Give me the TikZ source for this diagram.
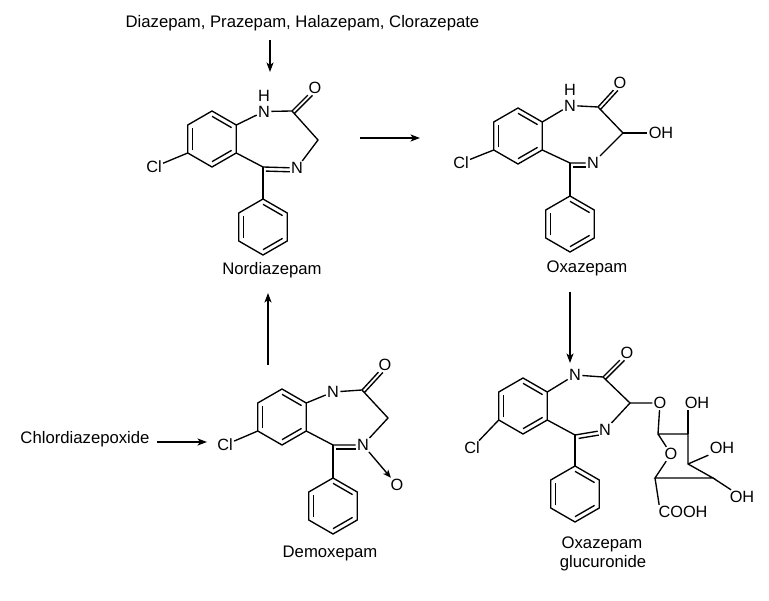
\documentclass[tikz,border=0pt]{standalone}
\usepackage{fontspec}
\setmainfont{Liberation Sans}
\usetikzlibrary{calc,arrows.meta}
\tikzset{
  bond/.style={line width=1.35pt, line join=miter, line cap=butt},
  atom/.style={font=\fontsize{16.3}{19}\selectfont, inner sep=1.2pt},
  lbl/.style={font=\fontsize{16.7}{19.5}\selectfont, inner sep=0pt, anchor=base},
  rxn/.style={line width=1.1pt, -{Stealth[length=9.5pt,width=7pt,inset=2.5pt]}},
  oxarrow/.style={line width=1.35pt, -{Stealth[length=8pt,width=6.5pt,inset=2pt]}},
  pics/hexring/.style={code={
    \coordinate (-c) at (0,0);
    \coordinate (-v1) at (0,-28);
    \coordinate (-v2) at (24.25,-14);
    \coordinate (-v3) at (24.25,14);
    \coordinate (-v4) at (0,28);
    \coordinate (-v5) at (-24.25,14);
    \coordinate (-v6) at (-24.25,-14);
    \draw[bond] (-v1) -- (-v2) -- (-v3) -- (-v4) -- (-v5) -- (-v6) -- cycle;
    \draw[bond] ($(-v1)!0.19!(-c)$) -- ($(-v2)!0.19!(-c)$);
    \draw[bond] ($(-v5)!0.19!(-c)$) -- ($(-v6)!0.19!(-c)$);
    \draw[bond] ($(-v3)!0.19!(-c)$) -- ($(-v4)!0.19!(-c)$);
  }}
}
\begin{document}
\begin{tikzpicture}[x=1pt,y=-1pt]
\useasboundingbox (0,0) rectangle (769,601);
\fill[white] (0,0) rectangle (769,601);

% ---------- Nordiazepam ----------
\pic (Abz) at (212,139) {hexring};
\pic (Aph) at (263,227) {hexring};
\node[atom] (AN1) at (264,111.5) {N};
\node[atom] (AH) at (264,95.5) {H};
\coordinate (AC2) at (292,111);
\node[atom] (AO) at (315,88) {O};
\coordinate (AC3) at (318,140);
\node[atom] (AN4) at (297,168) {N};
\coordinate (AC5) at (263,167);
\node[atom] (ACl) at (154,167) {Cl};
\draw[bond] (Abz-v2) -- (AN1) -- (AC2) -- (AC3) -- (AN4);
\draw[bond] (AC2) -- (AO);
\draw[bond,shorten >=7pt] ($(AC2)!3.5pt!-90:(AO)$) -- ($(AO)!3.5pt!90:(AC2)$);
\draw[bond] (Abz-v3) -- (AC5) -- (AN4);
\draw[bond,shorten <=3pt,shorten >=7pt] ($(AC5)!4pt!-90:(AN4)$) -- ($(AN4)!4pt!90:(AC5)$);
\draw[bond] (AC5) -- (Aph-v1);
\draw[bond] (Abz-v5) -- (ACl);
\node[lbl] (Alab) at (272,275) {Nordiazepam};

% ---------- Oxazepam ----------
\pic (Bbz) at (518,136) {hexring};
\pic (Bph) at (570,224) {hexring};
\node[atom] (BN1) at (570,105.5) {N};
\node[atom] (BH) at (570,89.5) {H};
\coordinate (BC2) at (598,107);
\node[atom] (BO) at (620,83) {O};
\coordinate (BC3) at (623,133);
\node[atom] (BOH) at (661,133) {OH};
\node[atom] (BN4) at (593,163) {N};
\coordinate (BC5) at (570,163);
\node[atom] (BCl) at (461,163) {Cl};
\draw[bond] (Bbz-v2) -- (BN1) -- (BC2) -- (BC3) -- (BN4);
\draw[bond] (BC3) -- (BOH);
\draw[bond] (BC2) -- (BO);
\draw[bond,shorten >=7pt] ($(BC2)!3.5pt!-90:(BO)$) -- ($(BO)!3.5pt!90:(BC2)$);
\draw[bond] (Bbz-v3) -- (BC5) -- (BN4);
\draw[bond,shorten <=3pt,shorten >=7pt] ($(BC5)!4pt!-90:(BN4)$) -- ($(BN4)!4pt!90:(BC5)$);
\draw[bond] (BC5) -- (Bph-v1);
\draw[bond] (Bbz-v5) -- (BCl);
\node[lbl] (Blab) at (587,273) {Oxazepam};

% ---------- Demoxepam ----------
\pic (Cbz) at (282,417) {hexring};
\pic (Cph) at (333,506) {hexring};
\node[atom] (CN1) at (333,392) {N};
\coordinate (CC2) at (362,390);
\node[atom] (CO) at (385,365) {O};
\coordinate (CC3) at (388,418);
\node[atom] (CN4) at (363,445) {N};
\coordinate (CC5) at (333,445);
\node[atom] (CNO) at (397,485) {O};
\node[atom] (CCl) at (225,445) {Cl};
\draw[bond] (Cbz-v2) -- (CN1) -- (CC2) -- (CC3) -- (CN4);
\draw[bond] (CC2) -- (CO);
\draw[bond,shorten >=7pt] ($(CC2)!3.5pt!-90:(CO)$) -- ($(CO)!3.5pt!90:(CC2)$);
\draw[bond] (Cbz-v3) -- (CC5) -- (CN4);
\draw[bond,shorten <=3pt,shorten >=7pt] ($(CC5)!4pt!-90:(CN4)$) -- ($(CN4)!4pt!90:(CC5)$);
\draw[bond] (CC5) -- (Cph-v1);
\draw[bond] (Cbz-v5) -- (CCl);
\draw[oxarrow] (CN4) -- (CNO);
\node[lbl] (Clab) at (330,558) {Demoxepam};

% ---------- Oxazepam glucuronide ----------
\pic (Dbz) at (523,406) {hexring};
\pic (Dph) at (575,494) {hexring};
\node[atom] (DN1) at (575,375) {N};
\coordinate (DC2) at (603,377);
\node[atom] (DO) at (627,353) {O};
\coordinate (DC3) at (630,403);
\node[atom] (DOg) at (660,403) {O};
\node[atom] (DN4) at (605,430) {N};
\coordinate (DC5) at (575,435);
\node[atom] (DCl) at (472,448) {Cl};
\draw[bond] (Dbz-v2) -- (DN1) -- (DC2) -- (DC3) -- (DN4);
\draw[bond] (DC2) -- (DO);
\draw[bond,shorten >=7pt] ($(DC2)!3.5pt!-90:(DO)$) -- ($(DO)!3.5pt!90:(DC2)$);
\draw[bond] (Dbz-v3) -- (DC5) -- (DN4);
\draw[bond,shorten <=3pt,shorten >=7pt] ($(DC5)!4pt!-90:(DN4)$) -- ($(DN4)!4pt!90:(DC5)$);
\draw[bond] (DC5) -- (Dph-v1);
\draw[bond] (Dbz-v5) -- (DCl);
% sugar
\coordinate (DS1) at (658,434);
\coordinate (DS2) at (688,434);
\coordinate (DS3) at (688,464);
\coordinate (DS4) at (713,478);
\coordinate (DS5) at (655,478);
\node[atom] (DOr) at (671,454) {O};
\node[atom] (DOH1) at (697,403) {OH};
\node[atom] (DOH2) at (722,448) {OH};
\node[atom] (DOH3) at (742,497) {OH};
\node[atom] (DCOOH) at (683,512) {COOH};
\draw[bond] (DC3) -- (DOg) -- (DS1) -- (DS2) -- (DS3) -- (DS4) -- (DS5) -- (DOr) -- (DS1);
\draw[bond] (DS2) -- (DS2 |- DOH1.south);
\draw[bond] (DS3) -- (DOH2.south west);
\draw[bond] (DS4) -- (DOH3);
\draw[bond] (DS5) -- ([xshift=2pt]DCOOH.north west);
\node[lbl] (Dlab1) at (602,548) {Oxazepam};
\node[lbl] (Dlab2) at (603,567) {glucuronide};

% ---------- precursors and reaction arrows ----------
\node[lbl] (src1) at (302.5,28) {Diazepam, Prazepam, Halazepam, Clorazepate};
\node[lbl] (src2) at (85,443.5) {Chlordiazepoxide};
\coordinate (a1s) at (270,40);   \coordinate (a1e) at (270,72);
\coordinate (a2s) at (360,138);  \coordinate (a2e) at (420,138);
\coordinate (a3s) at (570,292);  \coordinate (a3e) at (570,363);
\coordinate (a4s) at (268,365);  \coordinate (a4e) at (268,293);
\coordinate (a5s) at (157,442);  \coordinate (a5e) at (207,442);
\draw[rxn] (a1s) -- (a1e);
\draw[rxn] (a2s) -- (a2e);
\draw[rxn] (a3s) -- (a3e);
\draw[rxn] (a4s) -- (a4e);
\draw[rxn] (a5s) -- (a5e);
\end{tikzpicture}
\end{document}
